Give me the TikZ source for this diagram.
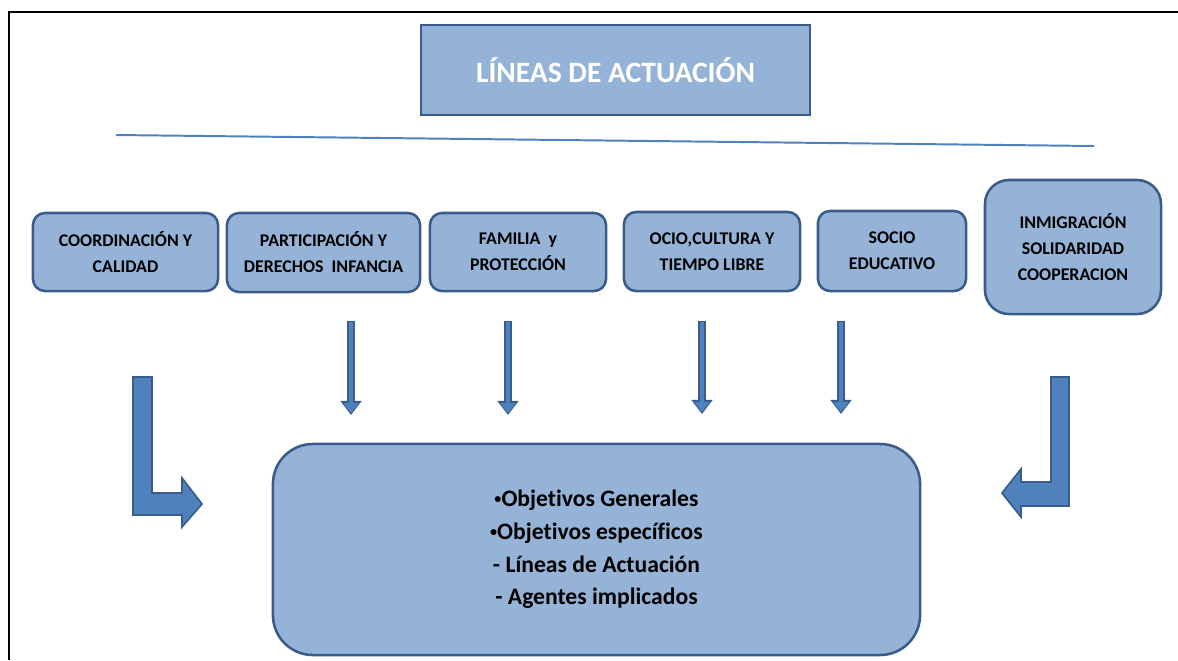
\documentclass[tikz,border=0pt]{standalone}
\usepackage{fontspec}
\setmainfont{Carlito}[RawFeature=-liga]
\usetikzlibrary{arrows.meta}
\definecolor{relleno}{HTML}{95B3D7}
\definecolor{borde}{HTML}{385D8A}
\definecolor{azul}{HTML}{4F81BD}
\newcommand{\punto}{\raisebox{0.12em}{\fontsize{10}{10}\selectfont•}}
\begin{document}
\begin{tikzpicture}[x=0.025cm,y=-0.025cm,
	caja/.style={draw=borde, fill=relleno, line width=1.8pt, rounded corners=0.3cm, align=center, font=\fontsize{12.7}{18.5}\selectfont\bfseries},
	bordeflecha/.style={draw=borde, line width=5.6pt, -{Triangle[width=14.5pt,length=10pt]}},
	flecha/.style={draw=azul, line width=3pt, shorten <=0.8pt, shorten >=1.4pt, -{Triangle[width=10.5pt,length=7pt]}},
	bloque/.style={fill=azul, draw=borde, line width=1.2pt, line join=miter}]
	\tikzstyle{every node}+=[inner sep=0pt]
	\useasboundingbox (0,0) rectangle (1178,660);
	% marco
	\draw [black, line width=1.5pt] (9,660) -- (9,12) -- (1178,12);
	% titulo
	\node [caja, rounded corners=0pt, line width=2pt, minimum width=9.725cm, minimum height=2.25cm, text=white, font=\fontsize{21}{24}\selectfont\bfseries] (titulo) at (615.5,70) {LÍNEAS DE ACTUACIÓN};
	\coordinate (l1) at (116,135);
	\coordinate (l2) at (1094,146);
	\draw [azul, line width=1.4pt] (l1) -- (l2);
	% lineas
	\node [caja, minimum width=4.625cm, minimum height=1.95cm] (coord) at (125.5,252) {COORDINACIÓN Y\\CALIDAD};
	\node [caja, minimum width=4.825cm, minimum height=1.975cm] (partic) at (323.5,252.5) {PARTICIPACIÓN Y\\DERECHOS\ \ INFANCIA};
	\node [caja, minimum width=4.4cm, minimum height=1.95cm] (familia) at (518,252) {FAMILIA\ \ y\\PROTECCIÓN};
	\node [caja, minimum width=4.4cm, minimum height=1.975cm] (ocio) at (712,251.5) {OCIO,CULTURA Y\\TIEMPO LIBRE};
	\node [caja, minimum width=3.7cm, minimum height=2cm] (socio) at (892,251) {SOCIO\\EDUCATIVO};
	\node [caja, rounded corners=0.6cm, minimum width=4.4cm, minimum height=3.35cm] (inmig) at (1073,247) {INMIGRACIÓN\\SOLIDARIDAD\\COOPERACION};
	% objetivos
	\node [caja, rounded corners=1cm, minimum width=16.175cm, minimum height=5.275cm, font=\fontsize{16.8}{23.3}\selectfont\bfseries] (objetivos) at (596.5,549.5) {\punto Objetivos Generales\\\punto Objetivos específicos\\- Líneas de Actuación\\- Agentes implicados};
	% flechas
	\coordinate (a1) at (351,321); \coordinate (b1) at (351,415);
	\coordinate (a2) at (508,321); \coordinate (b2) at (508,415);
	\coordinate (a3) at (702,321); \coordinate (b3) at (702,414);
	\coordinate (a4) at (841,321); \coordinate (b4) at (841,414);
	\foreach \i in {1,...,4} {
		\draw [bordeflecha] (a\i) -- (b\i);
		\draw [flecha] (a\i) -- (b\i);
	}
	\draw [bloque] (133,377) -- (152,377) -- (152,493) -- (182,493) -- (182,478) -- (202,504) -- (182,527) -- (182,515) -- (133,515) -- cycle;
	\draw [bloque] (1051,377) -- (1069,377) -- (1069,506) -- (1021,506) -- (1021,517) -- (1002,493) -- (1021,469) -- (1021,482) -- (1051,482) -- cycle;
\end{tikzpicture}
\end{document}
